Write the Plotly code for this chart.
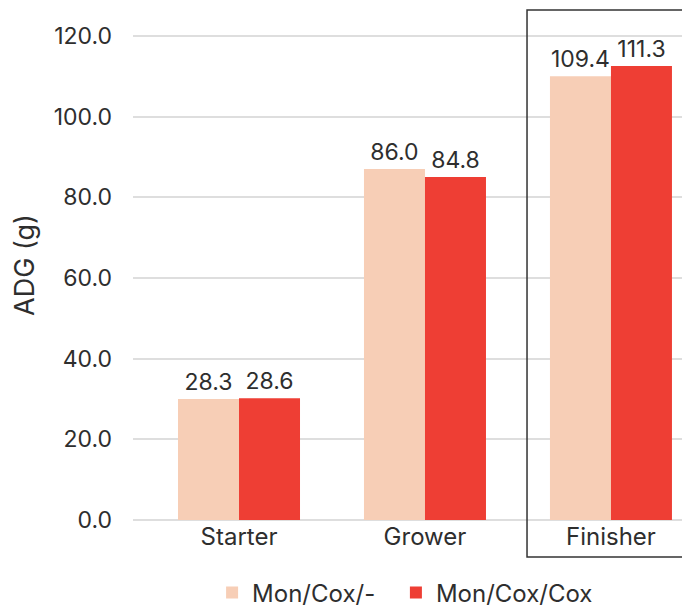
import plotly.graph_objects as go

categories = ["Starter", "Grower", "Finisher"]
series_names = ["Mon/Cox/-", "Mon/Cox/Cox"]
# bar heights as drawn in the reference
mon_cox_none = [30.0, 87.0, 110.0]
mon_cox_cox = [30.2, 85.0, 112.5]
# data labels as printed in the reference
labels_none = ["28.3", "86.0", "109.4"]
labels_cox = ["28.6", "84.8", "111.3"]
y_ticks = [0, 20, 40, 60, 80, 100, 120]

colors = ["#F7CEB6", "#EE3E34"]
FONT = "Inter"
TXT = "#2E2E2E"

fig = go.Figure()
for name, vals, labs, col, lg in [
    (series_names[0], mon_cox_none, labels_none, colors[0], "legend"),
    (series_names[1], mon_cox_cox, labels_cox, colors[1], "legend2"),
]:
    fig.add_trace(go.Bar(
        x=categories, y=vals, name=name, marker_color=col,
        marker_line_width=0, legend=lg,
        text=labs, textposition="outside", cliponaxis=False,
        textfont=dict(size=23, color=TXT, family=FONT),
    ))

leg_common = dict(orientation="h", xanchor="left", xref="paper",
                  y=-0.143, yanchor="middle", yref="paper",
                  font=dict(size=24, color=TXT, family=FONT),
                  itemwidth=30, bgcolor="rgba(0,0,0,0)")

fig.update_layout(
    width=682, height=600,
    margin=dict(l=125, r=0, t=2, b=88, autoexpand=False),
    plot_bgcolor="white", paper_bgcolor="white",
    barmode="group", bargap=0.344, bargroupgap=0,
    font=dict(family=FONT, color=TXT),
    showlegend=True,
    legend=dict(x=0.142, **leg_common),
    legend2=dict(x=0.472, **leg_common),
    xaxis=dict(range=[-0.57, 2.425], showgrid=False, showline=False,
               tickfont=dict(size=24, color=TXT, family=FONT),
               ticks="", zeroline=False),
    yaxis=dict(range=[0, 126.4], tickvals=y_ticks,
               ticktext=[f"{v:.1f}" for v in y_ticks],
               showgrid=True, gridcolor="#DEDEDE", gridwidth=2,
               zeroline=True, zerolinecolor="#DEDEDE", zerolinewidth=2,
               tickfont=dict(size=23, color=TXT, family=FONT),
               ticklabelstandoff=20,
               title=dict(text="ADG (g)", font=dict(size=27, color=TXT, family=FONT),
                          standoff=26)),
    shapes=[dict(type="rect", xref="paper", yref="paper",
                 x0=0.7074, x1=1.02, y0=-0.0725, y1=1.0,
                 line=dict(color="#333333", width=1.5), fillcolor="rgba(0,0,0,0)")],
)

fig.write_html("out.html")
